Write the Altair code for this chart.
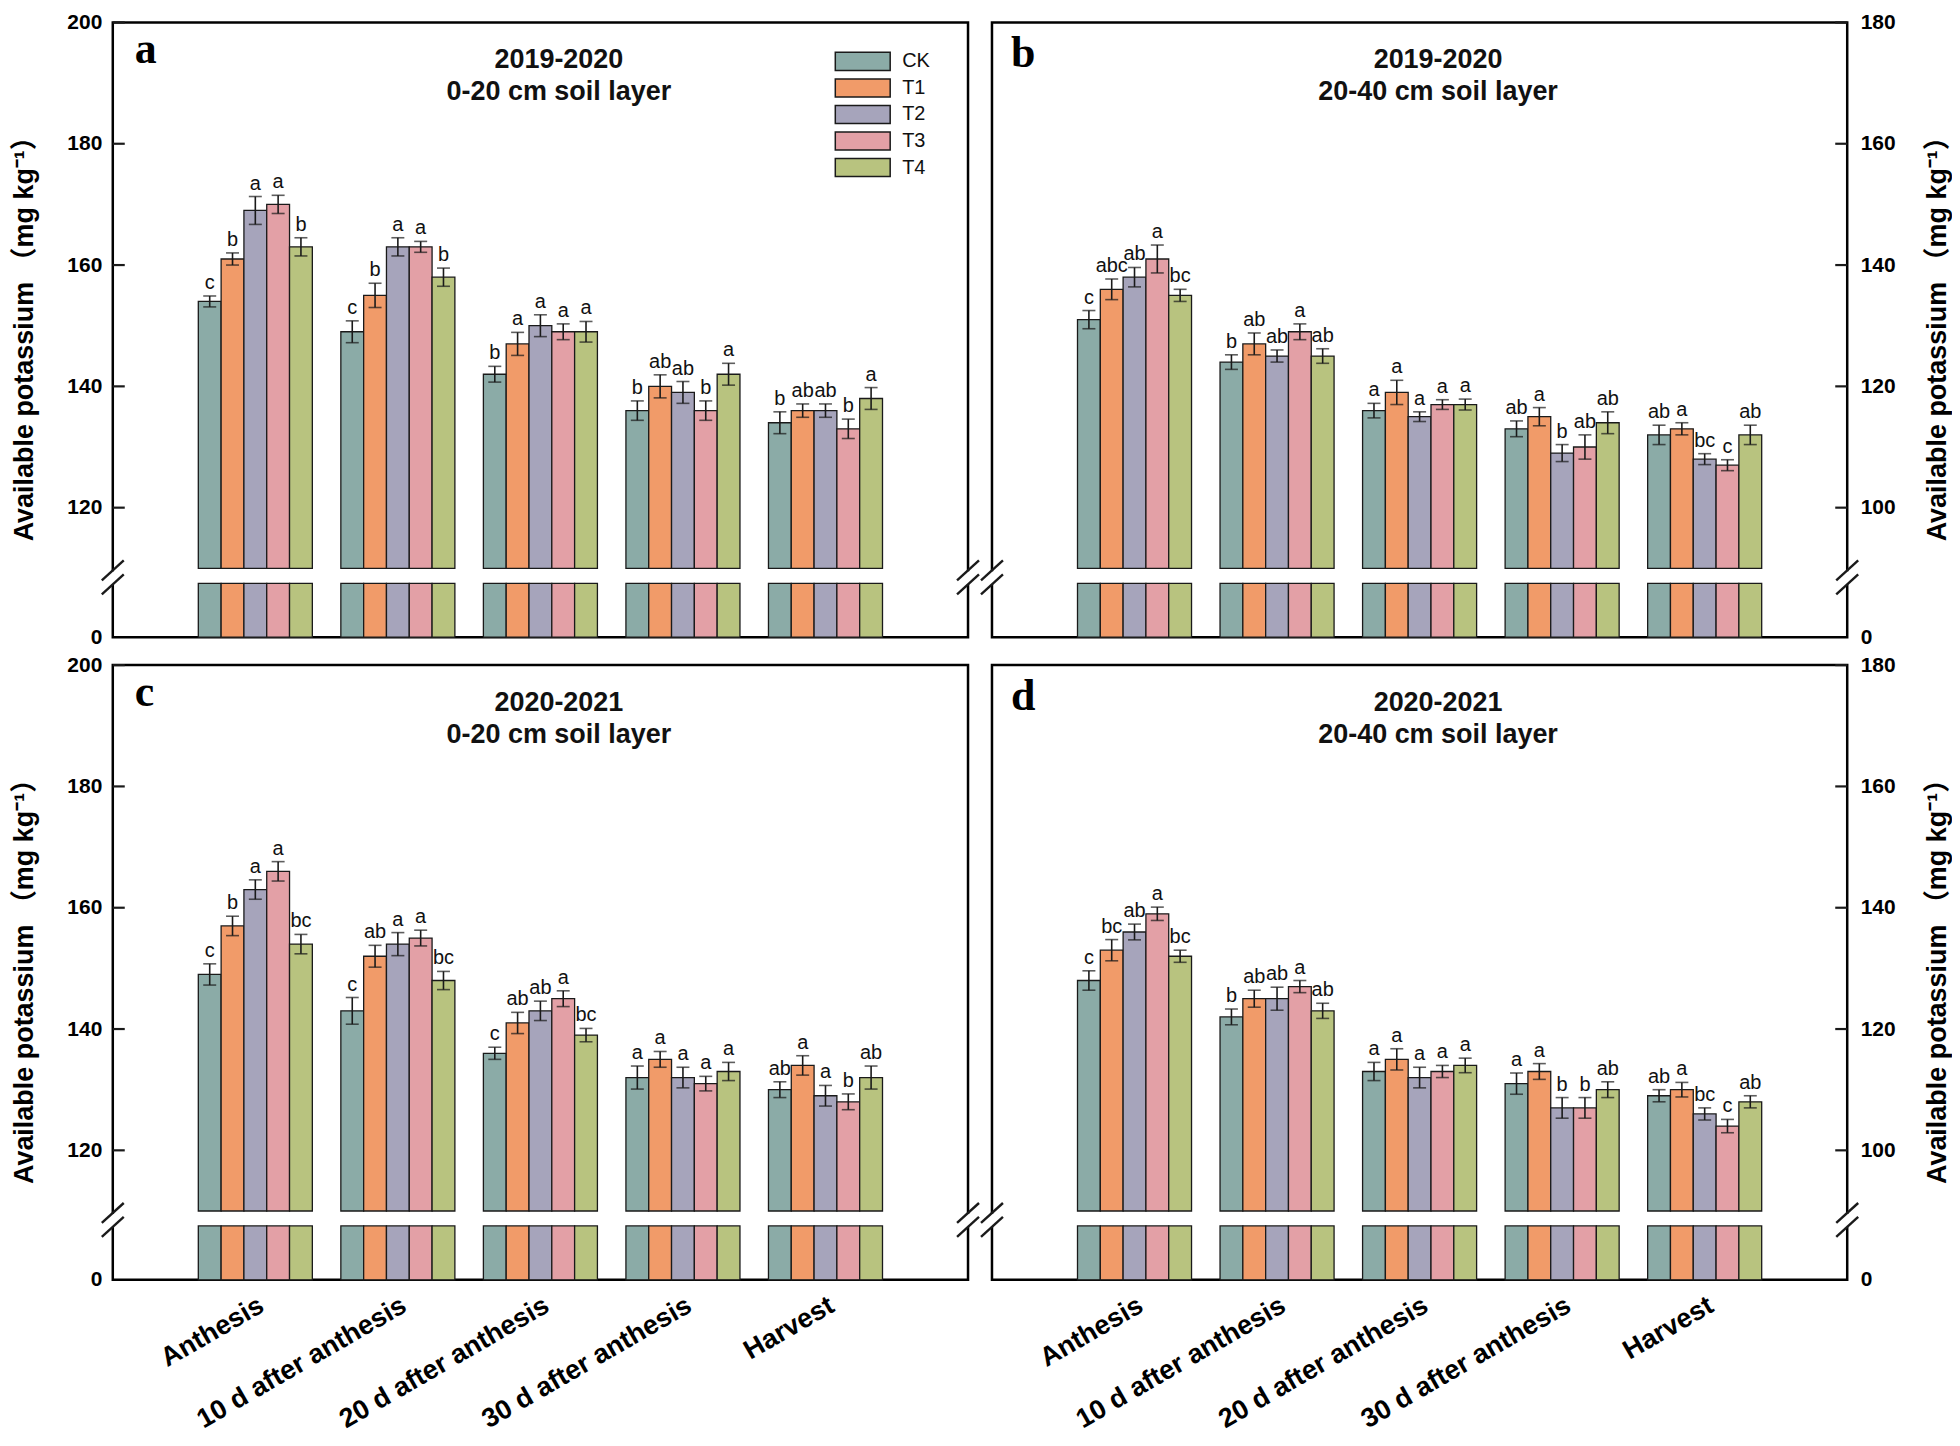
import altair as alt
import pandas as pd

stages = ["Anthesis", "10 d after anthesis", "20 d after anthesis", "30 d after anthesis", "Harvest"]
treatments = ["CK", "T1", "T2", "T3", "T4"]
colors = ["#8BABA7", "#F19B69", "#A6A4BB", "#E3A0A6", "#B8C37F"]

# panel a: 2019-2020, 0-20 cm
a_vals = [[154, 161, 169, 170, 163], [149, 155, 163, 163, 158], [142, 147, 150, 149, 149],
          [136, 140, 139, 136, 142], [134, 136, 136, 133, 138]]
a_err = [[0.9, 1.0, 2.3, 1.5, 1.5], [1.8, 2.0, 1.5, 0.9, 1.5], [1.3, 1.9, 1.8, 1.3, 1.7],
         [1.6, 1.9, 1.8, 1.6, 1.8], [1.8, 1.1, 1.1, 1.6, 1.8]]
a_let = [["c", "b", "a", "a", "b"], ["c", "b", "a", "a", "b"], ["b", "a", "a", "a", "a"],
         ["b", "ab", "ab", "b", "a"], ["b", "ab", "ab", "b", "a"]]
# panel b: 2019-2020, 20-40 cm
b_vals = [[131, 136, 138, 141, 135], [124, 127, 125, 129, 125], [116, 119, 115, 117, 117],
          [113, 115, 109, 110, 114], [112, 113, 108, 107, 112]]
b_err = [[1.5, 1.7, 1.6, 2.3, 1.0], [1.2, 1.8, 1.0, 1.3, 1.2], [1.2, 2.0, 0.8, 0.8, 0.9],
         [1.3, 1.5, 1.4, 2.0, 1.8], [1.6, 1.0, 0.9, 0.9, 1.6]]
b_let = [["c", "abc", "ab", "a", "bc"], ["b", "ab", "ab", "a", "ab"], ["a", "a", "a", "a", "a"],
         ["ab", "a", "b", "ab", "ab"], ["ab", "a", "bc", "c", "ab"]]
# panel c: 2020-2021, 0-20 cm
c_vals = [[149, 157, 163, 166, 154], [143, 152, 154, 155, 148], [136, 141, 143, 145, 139],
          [132, 135, 132, 131, 133], [130, 134, 129, 128, 132]]
c_err = [[1.75, 1.6, 1.6, 1.6, 1.6], [2.2, 1.8, 1.9, 1.3, 1.5], [1.0, 1.75, 1.6, 1.3, 1.1],
         [1.9, 1.3, 1.7, 1.2, 1.5], [1.3, 1.6, 1.7, 1.3, 1.9]]
c_let = [["c", "b", "a", "a", "bc"], ["c", "ab", "a", "a", "bc"], ["c", "ab", "ab", "a", "bc"],
         ["a", "a", "a", "a", "a"], ["ab", "a", "a", "b", "ab"]]
# panel d: 2020-2021, 20-40 cm
d_vals = [[128, 133, 136, 139, 132], [122, 125, 125, 127, 123], [113, 115, 112, 113, 114],
          [111, 113, 107, 107, 110], [109, 110, 106, 104, 108]]
d_err = [[1.6, 1.75, 1.3, 1.1, 1.0], [1.3, 1.4, 1.9, 1.0, 1.25], [1.5, 1.75, 1.7, 1.0, 1.2],
         [1.75, 1.3, 1.7, 1.7, 1.3], [1.0, 1.2, 1.0, 1.1, 1.0]]
d_let = [["c", "bc", "ab", "a", "bc"], ["b", "ab", "ab", "a", "ab"], ["a", "a", "a", "a", "a"],
         ["a", "a", "b", "b", "ab"], ["ab", "a", "bc", "c", "ab"]]

panel_letters = ["a", "b", "c", "d"]
seasons = ["2019-2020", "2019-2020", "2020-2021", "2020-2021"]
soil_layers = ["0-20 cm soil layer", "20-40 cm soil layer", "0-20 cm soil layer", "20-40 cm soil layer"]
axis_floor = [110, 90, 110, 90]
axis_ticks = [[0, 120, 140, 160, 180, 200], [0, 100, 120, 140, 160, 180],
              [0, 120, 140, 160, 180, 200], [0, 100, 120, 140, 160, 180]]
y_title = "Available potassium （mg kg⁻¹）"
LOW_TOP = 10

all_vals = [a_vals, b_vals, c_vals, d_vals]
all_err = [a_err, b_err, c_err, d_err]
all_let = [a_let, b_let, c_let, d_let]

W, H = 857, 616
FONT = "Liberation Sans, Arial, Noto Sans CJK SC, sans-serif"
EDGE = "#1a1a1a"


def make_panel(k):
    floor = axis_floor[k]
    left = (k % 2 == 0)
    bottom = (k >= 2)
    rows = []
    for i, s in enumerate(stages):
        for j, t in enumerate(treatments):
            v = all_vals[k][i][j]
            e = all_err[k][i][j]
            rows.append({"stage": s, "trt": t, "value": v, "hi": v + e, "low": v - e,
                         "letter": all_let[k][i][j], "base": floor, "zero": 0, "ltop": LOW_TOP})
    df = pd.DataFrame(rows)

    yscale = alt.Scale(domain=[0, LOW_TOP, floor, floor + 90], range=[H, H - 54, H - 69, 0],
                       nice=False, zero=False)
    yaxis = alt.Axis(values=axis_ticks[k], orient="left" if left else "right",
                     title=y_title, titleX=-88 if left else 90, titleY=310, titleAngle=270,
                     titleAlign="center", titleBaseline="middle", titleFontSize=27,
                     titleFontWeight="bold", titleFont=FONT, titleColor="black",
                     labelPadding=11 if left else 13, labelFontSize=21, labelFontWeight="bold",
                     labelFont=FONT, labelColor="black", domain=False, ticks=False, grid=False,
                     labelOverlap=False, labelFlush=False)
    if bottom:
        xaxis = alt.Axis(title=None, labelAngle=-30, labelAlign="right", labelBaseline="top",
                         labelFontSize=27, labelFontWeight="bold", labelFont=FONT,
                         labelColor="black", labelPadding=12, labelLimit=600,
                         labelOverlap=False, domain=False, ticks=False, grid=False)
    else:
        xaxis = None

    X = alt.X("stage:N", sort=stages, scale=alt.Scale(paddingInner=0.2, paddingOuter=0.6),
              axis=xaxis)
    XO = alt.XOffset("trt:N", sort=treatments, scale=alt.Scale(paddingInner=0, paddingOuter=0))
    C = alt.Color("trt:N", sort=treatments, scale=alt.Scale(domain=treatments, range=colors),
                  legend=None)

    def Y(f):
        return alt.Y(f, type="quantitative", scale=yscale, axis=yaxis)

    base = alt.Chart(df)
    bars_low = base.mark_bar(stroke=EDGE, strokeWidth=1.3).encode(
        x=X, xOffset=XO, y=Y("zero"), y2=alt.Y2("ltop"), color=C)
    bars_up = base.mark_bar(stroke=EDGE, strokeWidth=1.3).encode(
        x=X, xOffset=XO, y=Y("base"), y2=alt.Y2("value"), color=C)
    err = base.mark_rule(color=EDGE, strokeWidth=1.6).encode(
        x=X, xOffset=XO, y=Y("low"), y2=alt.Y2("hi"))
    cap_hi = base.mark_tick(color=EDGE, thickness=1.6, size=13).encode(x=X, xOffset=XO, y=Y("hi"))
    cap_lo = base.mark_tick(color=EDGE, thickness=1.6, size=13).encode(x=X, xOffset=XO, y=Y("low"))
    lets = base.mark_text(baseline="bottom", dy=-3, fontSize=20, font=FONT, color="#111").encode(
        x=X, xOffset=XO, y=Y("hi"), text="letter:N")

    tick_df = pd.DataFrame({"t": axis_ticks[k][1:]})
    tk = alt.Chart(tick_df).mark_rule(color=EDGE, strokeWidth=2.2).encode(
        y=Y("t"), x=alt.value(0 if left else W - 12), x2=alt.value(12 if left else W))

    one = pd.DataFrame({"t": [panel_letters[k]]})
    decor = []
    for xc in (0, W):
        decor.append(alt.Chart(one).mark_rect(fill="white").encode(
            x=alt.value(xc - 3), x2=alt.value(xc + 3), y=alt.value(550), y2=alt.value(563)))
        decor.append(alt.Chart(one).mark_rule(color=EDGE, strokeWidth=2.4).encode(
            x=alt.value(xc - 11), x2=alt.value(xc + 11), y=alt.value(559), y2=alt.value(539)))
        decor.append(alt.Chart(one).mark_rule(color=EDGE, strokeWidth=2.4).encode(
            x=alt.value(xc - 11), x2=alt.value(xc + 11), y=alt.value(573), y2=alt.value(553)))

    letter_txt = alt.Chart(one).mark_text(
        font="Liberation Serif, Times New Roman, serif", fontWeight="bold", fontSize=44,
        align="left", baseline="alphabetic", color="black").encode(
        x=alt.value(22 if left else 19), y=alt.value(41 if left else 45), text="t:N")

    ttl = pd.DataFrame({"t": [seasons[k] + "\n" + soil_layers[k]]})
    title_txt = alt.Chart(ttl).mark_text(
        font=FONT, fontWeight="bold", fontSize=27, lineBreak="\n", lineHeight=32,
        align="center", baseline="alphabetic", color="#111").encode(
        x=alt.value(447), y=alt.value(46), text="t:N")

    main = alt.layer(bars_low, bars_up, err, cap_hi, cap_lo, lets, tk, *decor, letter_txt, title_txt)

    if k == 0:
        leg_df = pd.DataFrame({"trt": treatments})
        LY = alt.Y("trt:N", sort=treatments,
                   scale=alt.Scale(range=[25.7, 158.7], paddingInner=0.32, paddingOuter=0.16),
                   axis=None)
        leg_rect = alt.Chart(leg_df).mark_rect(stroke=EDGE, strokeWidth=1.5).encode(
            x=alt.value(724), x2=alt.value(779), y=LY, color=C)
        leg_txt = alt.Chart(leg_df).mark_text(align="left", baseline="middle", fontSize=20,
                                              font=FONT, color="#111").encode(
            x=alt.value(791), y=LY, text="trt:N")
        panel = alt.layer(main, leg_rect, leg_txt).resolve_scale(y="independent")
    else:
        panel = main
    return panel.properties(width=W, height=H)


chart = alt.concat(
    make_panel(0), make_panel(1), make_panel(2), make_panel(3),
    columns=2, spacing={"row": 28, "column": 24}, bounds="flush"
).properties(
    padding={"left": 1, "top": 0, "right": 0, "bottom": 0}, background="white"
).configure_view(stroke="black", strokeWidth=2.5)

chart.save("out.html", embed_options={"renderer": "svg", "actions": False})
